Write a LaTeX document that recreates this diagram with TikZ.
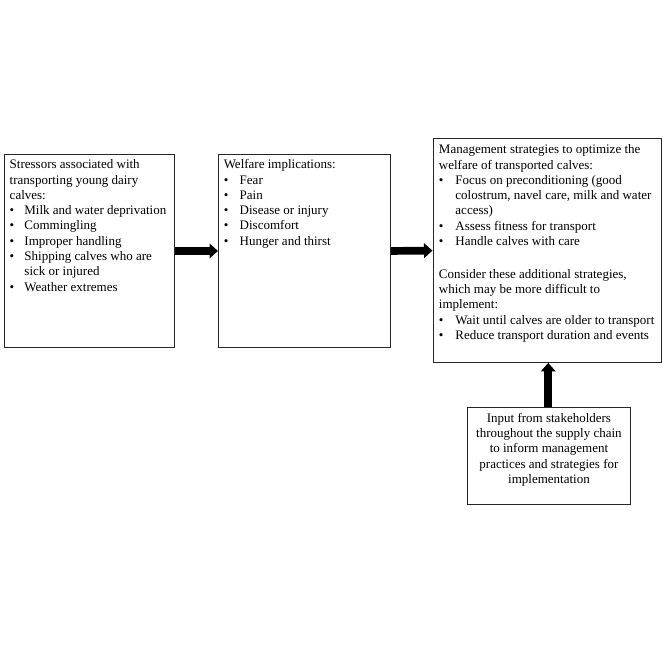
\documentclass[tikz,border=0pt]{standalone}
\usepackage{fontspec}
\setmainfont{Liberation Serif}
\usetikzlibrary{arrows.meta}
\newcommand{\bul}[1]{\par\hangindent=#1\hangafter=1\noindent\makebox[#1][l]{\textbullet}}
% #1 width, #2 height, #3 leftskip, #4 text
\newcommand{\boxtext}[4]{\parbox[t][#2][t]{#1}{\setlength{\parindent}{0pt}\leftskip=#3\rightskip=-12pt plus 1fil\fontsize{13}{15.3}\selectfont\strut #4}}
\begin{document}
\begin{tikzpicture}[x=1pt,y=-1pt,
  box/.style={draw=black!85, line width=0.9pt, inner xsep=0pt, anchor=north west},
  bigarrow/.style={line width=7.7pt, black, -{Triangle[length=8.5pt,width=14.5pt]}}]
\useasboundingbox (0,0) rectangle (663,663);
\fill[white] (0,0) rectangle (663,663);

\node[box, inner ysep=3.6pt] (b1) at (3.5,154) {\boxtext{170.5pt}{185.8pt}{5.8pt}{%
Stressors associated with\\ transporting young dairy\\ calves:%
\bul{14.7pt}Milk and water deprivation%
\bul{14.7pt}Commingling%
\bul{14.7pt}Improper handling%
\bul{14.7pt}Shipping calves who are\\ sick or injured%
\bul{14.7pt}Weather extremes}};

\node[box, inner ysep=3.6pt] (b2) at (218,154) {\boxtext{172pt}{185.8pt}{5.3pt}{%
Welfare implications:%
\bul{16pt}Fear%
\bul{16pt}Pain%
\bul{16pt}Disease or injury%
\bul{16pt}Discomfort%
\bul{16pt}Hunger and thirst}};

\node[box, inner ysep=4.3pt] (b3) at (432.5,138.3) {\boxtext{228.2pt}{215.1pt}{6pt}{%
Management strategies to optimize the\\ welfare of transported calves:%
\bul{16.5pt}Focus on preconditioning (good\\ colostrum, navel care, milk and water\\ access)%
\bul{16.5pt}Assess fitness for transport%
\bul{16.5pt}Handle calves with care%
\par\vspace{17.4pt}\noindent Consider these additional strategies,\\ which may be more difficult to\\ implement:%
\bul{16.5pt}Wait until calves are older to transport%
\bul{16.5pt}Reduce transport duration and events}};

\node[box, inner ysep=4pt] (b4) at (467,407) {\parbox[t][89pt][t]{163pt}{\centering\fontsize{13}{15.3}\selectfont\strut
Input from stakeholders\\ throughout the supply chain\\ to inform management\\ practices and strategies for\\ implementation}};

\draw[bigarrow] (b1.east) -- (b2.west);
\draw[bigarrow] (b2.east) -- (b3.west);
\draw[bigarrow] ([xshift=-0.7pt]b4.north) -- ([xshift=-0.7pt]b4.north |- b3.south);
\end{tikzpicture}
\end{document}
